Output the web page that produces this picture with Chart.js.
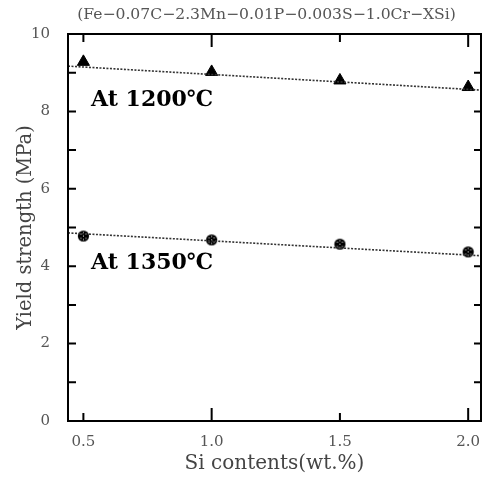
<!DOCTYPE html>
<html>
<head>
<meta charset="utf-8">
<script src="https://cdn.jsdelivr.net/npm/chart.js@4.4.0/dist/chart.umd.min.js"></script>
<style>
  html, body { margin: 0; padding: 0; background: #fff; }
  #wrap { width: 483px; height: 480px; }
</style>
</head>
<body>
<div id="wrap"><canvas id="ysChart" width="483" height="480"></canvas></div>
<script>
// Si content (wt.%) and yield strength (MPa)
const siContents = [0.5, 1.0, 1.5, 2.0];
const ys1200 = [9.28, 9.02, 8.80, 8.63];
const ys1350 = [4.78, 4.68, 4.57, 4.37];

// dotted fit lines, end points at the plot edges
const fitX = [0.44, 2.05];
const fit1200 = [9.17, 8.55];
const fit1350 = [4.86, 4.27];

const xTicks = [0.5, 1.0, 1.5, 2.0];
const yTicks = [0, 2, 4, 6, 8, 10];
const yMinorTicks = [1, 3, 5, 7, 9];

const titleText = '(Fe\u22120.07C\u22122.3Mn\u22120.01P\u22120.003S\u22121.0Cr\u2212XSi)';
const serif = "'DejaVu Serif', 'Liberation Serif', serif";

// hatched circle marker (black disc with white dots)
function makeDot() {
    const c = document.createElement('canvas');
    c.width = 13; c.height = 13;
    const g = c.getContext('2d');
    g.fillStyle = '#000';
    g.beginPath(); g.arc(6.5, 6.5, 5.6, 0, Math.PI * 2); g.fill();
    g.fillStyle = '#fff';
    [[6.5, 6.5], [4, 4.5], [9, 4.5], [4, 8.8], [9, 8.8], [6.5, 3], [6.5, 10]].forEach(p => {
        g.fillRect(p[0] - 0.5, p[1] - 0.5, 1, 1);
    });
    return c;
}

const pts = (xs, ys) => xs.map((x, i) => ({ x: x, y: ys[i] }));

// frame, inward ticks, title over the plot and the two temperature labels
const framePlugin = {
    id: 'frame',
    afterDatasetsDraw(chart) {
        const { ctx, chartArea: a, scales } = chart;
        const xs = scales.x, ys = scales.y;
        ctx.save();
        ctx.strokeStyle = '#000';
        ctx.lineWidth = 2;
        ctx.strokeRect(a.left, a.top, a.right - a.left, a.bottom - a.top);
        xTicks.forEach(v => {
            const px = xs.getPixelForValue(v);
            const len = (v % 1 === 0) ? 13 : 8;
            ctx.beginPath();
            ctx.moveTo(px, a.bottom); ctx.lineTo(px, a.bottom - len);
            ctx.moveTo(px, a.top); ctx.lineTo(px, a.top + len);
            ctx.stroke();
        });
        yTicks.concat(yMinorTicks).forEach(v => {
            const py = ys.getPixelForValue(v);
            ctx.beginPath();
            ctx.moveTo(a.left, py); ctx.lineTo(a.left + 8, py);
            ctx.moveTo(a.right, py); ctx.lineTo(a.right - 7, py);
            ctx.stroke();
        });
        ctx.fillStyle = '#555';
        ctx.font = '15.6px ' + serif;
        ctx.textAlign = 'center';
        ctx.textBaseline = 'middle';
        ctx.fillText(titleText, (a.left + a.right) / 2 - 8, a.top - 19);

        ctx.fillStyle = '#000';
        ctx.font = 'bold 22px ' + serif;
        ctx.textAlign = 'left';
        ctx.fillText('At 1200\u2103', xs.getPixelForValue(0.53), ys.getPixelForValue(8.29));
        ctx.fillText('At 1350\u2103', xs.getPixelForValue(0.53), ys.getPixelForValue(4.08));
        ctx.restore();
    }
};

const ctx = document.getElementById('ysChart').getContext('2d');
const ysChart = new Chart(ctx, {
    type: 'scatter',
    data: {
        datasets: [{
            type: 'line',
            label: 'fit 1200',
            data: pts(fitX, fit1200),
            borderColor: '#333',
            borderWidth: 1.6,
            borderDash: [2, 1.5],
            pointRadius: 0,
            fill: false
        }, {
            type: 'line',
            label: 'fit 1350',
            data: pts(fitX, fit1350),
            borderColor: '#333',
            borderWidth: 1.6,
            borderDash: [2, 1.5],
            pointRadius: 0,
            fill: false
        }, {
            label: 'At 1200\u2103',
            data: pts(siContents, ys1200),
            pointStyle: 'triangle',
            pointRadius: 7,
            backgroundColor: '#000',
            borderColor: '#000'
        }, {
            label: 'At 1350\u2103',
            data: pts(siContents, ys1350),
            pointStyle: makeDot(),
            pointRadius: 6
        }]
    },
    options: {
        responsive: false,
        animation: false,
        layout: { autoPadding: false, padding: { top: 34, right: 2, bottom: 0 } },
        plugins: {
            legend: { display: false },
            tooltip: { enabled: false },
            title: { display: false }
        },
        scales: {
            x: {
                type: 'linear',
                min: 0.44,
                max: 2.05,
                grid: { display: false },
                border: { display: false },
                afterBuildTicks: s => { s.ticks = xTicks.map(v => ({ value: v })); },
                afterFit: s => { s.height = 59; s.paddingLeft = 0; s.paddingRight = 0; },
                ticks: {
                    color: '#555',
                    font: { family: serif, size: 15 },
                    padding: 4,
                    callback: v => v.toFixed(1)
                },
                title: {
                    display: true,
                    text: 'Si contents(wt.%)',
                    color: '#444',
                    font: { family: serif, size: 20 },
                    padding: { top: 3 }
                }
            },
            y: {
                min: 0,
                max: 10,
                grid: { display: false },
                border: { display: false },
                afterBuildTicks: s => { s.ticks = yTicks.map(v => ({ value: v })); },
                afterFit: s => { s.width = 68; s.paddingTop = 0; s.paddingBottom = 0; },
                ticks: {
                    color: '#555',
                    font: { family: serif, size: 15 },
                    padding: 10
                },
                title: {
                    display: true,
                    text: 'Yield strength (MPa)',
                    color: '#444',
                    font: { family: serif, size: 19.5 },
                    padding: { top: 14 }
                }
            }
        }
    },
    plugins: [framePlugin]
});
</script>
</body>
</html>
